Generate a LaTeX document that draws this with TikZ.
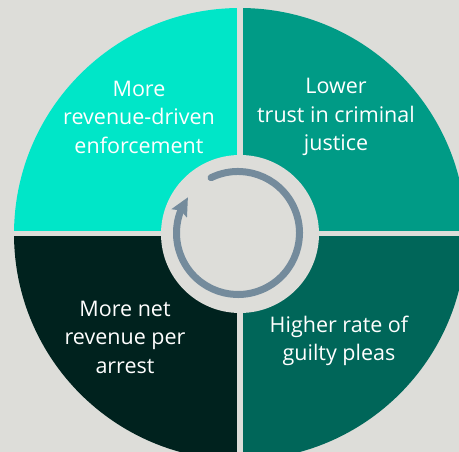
\documentclass[tikz,border=0pt]{standalone}
\usepackage{fontspec}
\setmainfont{Open Sans}
\usetikzlibrary{arrows.meta,bending}
\definecolor{bgGrey}{RGB}{221,221,217}
\definecolor{segCyan}{RGB}{0,230,200}
\definecolor{segTeal}{RGB}{0,155,134}
\definecolor{segPine}{RGB}{0,102,89}
\definecolor{segNight}{RGB}{0,34,30}
\definecolor{loopSlate}{RGB}{116,139,156}
\begin{document}
\begin{tikzpicture}[
    x=1pt, y=1pt,
    quadtext/.style={
      text=white,
      align=center,
      inner sep=0pt,
      font=\fontsize{21.5}{28.5}\selectfont
    },
    gap/.style={fill=bgGrey},
    cyclearrow/.style={
      draw=loopSlate,
      line width=7pt,
      line cap=round,
      -{Stealth[length=18pt,width=17pt,inset=3pt,flex]}
    }
  ]
    \useasboundingbox (0,0) rectangle (459,452);
    \fill[bgGrey] (0,0) rectangle (459,452);

    \coordinate (hub) at (240,218);
    \coordinate (ringc) at (238,219);

    % four quadrants of the disk, cut by the page
    \begin{scope}
      \clip (0,0) rectangle (459,452);
      \fill[segCyan]  (hub) -- ++(180:226) arc (180:90:226) -- cycle;
      \fill[segTeal]  (hub) -- ++(90:226) arc (90:0:226) -- cycle;
      \fill[segPine]  (hub) -- ++(0:226) arc (0:-90:226) -- cycle;
      \fill[segNight] (hub) -- ++(-90:226) arc (-90:-180:226) -- cycle;
    \end{scope}

    % separating gaps and the hub
    \fill[gap] (237,0) rectangle (243,452);
    \fill[gap] (0,215.5) rectangle (459,221);
    \fill[gap] (hub) circle (79);

    \draw[cyclearrow] (ringc) ++(116:61.5) arc (116:-215.5:61.5);

    \node[quadtext] (enforce) at (139,335) {More\\revenue-driven\\enforcement};
    \node[quadtext] (trust) at (336,335) {Lower\\trust in criminal\\justice};
    \node[quadtext] (pleas) at (339,111) {Higher rate of\\guilty pleas};
    \node[quadtext] (revenue) at (125,115) {More net\\revenue per\\arrest};
  \end{tikzpicture}
\end{document}
